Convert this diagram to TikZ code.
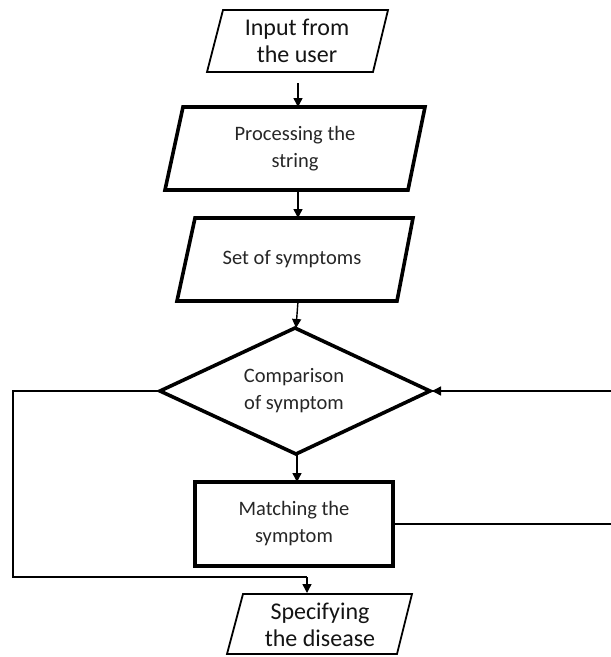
\documentclass[tikz,border=0pt]{standalone}
\usepackage{fontspec}
\setmainfont{Carlito}
\usetikzlibrary{arrows.meta}
\begin{document}
\begin{tikzpicture}[x=1pt,y=-1pt,
  thinbox/.style={line width=1.8pt,line join=miter},
  thickbox/.style={line width=3.6pt,line join=miter},
  bigtxt/.style={inner sep=0pt,align=center,text=black!92,font=\fontsize{24}{27}\selectfont},
  smalltxt/.style={inner sep=0pt,align=center,text=black!85,font=\fontsize{20.5}{27}\selectfont},
  conn/.style={line width=1.4pt,-{Triangle[length=9pt,width=9pt]}},
  plain/.style={line width=1.4pt}]
\useasboundingbox (0,0) rectangle (611,657);
% Input
\draw[thinbox] (223,10) -- (388,10) -- (373,72) -- (207,72) -- cycle;
\node[bigtxt] (input) at (297,41) {Input from\\the user};
\coordinate (inputB) at (298,83);
% Processing
\draw[thickbox] (183,107) -- (425,107) -- (408,190) -- (165,190) -- cycle;
\node[smalltxt] (proc) at (295,149) {Processing the\\string};
\coordinate (procT) at (298,107);
\coordinate (procB) at (298,190);
% Set of symptoms
\draw[thickbox] (195,218) -- (413,218) -- (397,301) -- (177,301) -- cycle;
\node[smalltxt] (set) at (292,259) {Set of symptoms};
\coordinate (setT) at (298,218);
\coordinate (setB) at (298,301);
% Diamond
\draw[thickbox] (295,328) -- (430,391) -- (296,454) -- (160,391) -- cycle;
\node[smalltxt] (comp) at (294,391) {Comparison\\of symptom};
\coordinate (dT) at (296,328);
\coordinate (dB) at (297,454);
\coordinate (dL) at (160,391);
\coordinate (dR) at (432,391);
% Matching
\draw[thickbox] (195,482) rectangle (393,566);
\node[smalltxt] (match) at (294,524) {Matching the\\symptom};
\coordinate (mT) at (297,482);
\coordinate (mR) at (393,524);
% Specifying
\draw[thinbox] (243,594) -- (412,594) -- (397,654) -- (227,654) -- cycle;
\node[bigtxt] (spec) at (320,625) {Specifying\\the disease};
\coordinate (sT) at (307,593);
% connectors
\draw[conn] (inputB) -- (procT);
\draw[conn] (procB) -- (setT);
\draw[conn] (setB) -- (dT);
\draw[conn] (dB) -- (mT);
\coordinate (loopR1) at (616,524);
\coordinate (loopR2) at (616,391);
\draw[plain] (mR) -- (loopR1) -- (loopR2) -- (dR);
\draw[conn] (loopR2) -- (dR);
\coordinate (loopL1) at (13,391);
\coordinate (loopL2) at (13,577);
\coordinate (loopL3) at (307,577);
\draw[plain] (dL) -- (loopL1) -- (loopL2) -- (loopL3);
\draw[conn] (loopL3) -- (sT);
\end{tikzpicture}
\end{document}
